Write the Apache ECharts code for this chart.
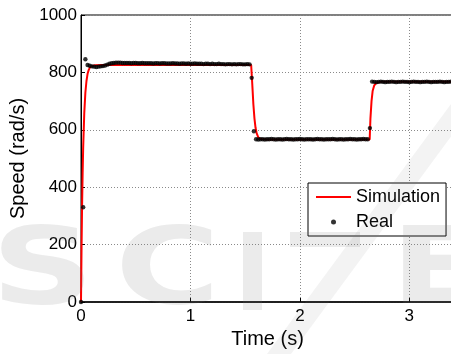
<!DOCTYPE html>
<html>
<head>
<meta charset="utf-8">
<script src="https://cdn.jsdelivr.net/npm/echarts@6/dist/echarts.min.js"></script>
<style>
  html, body { margin: 0; padding: 0; background: #fff; }
  #chart { width: 451px; height: 354px; }
</style>
</head>
<body>
<div id="chart"></div>
<script>
// Motor speed step response: simulated model vs. measured encoder samples.

// Simulated speed (rad/s) at the given times (s)
const simTime = [0, 0.005, 0.01, 0.015, 0.02, 0.03, 0.04, 0.05, 0.06, 0.07, 0.08, 0.10, 0.13, 0.20,
  1.555, 1.565, 1.575, 1.585, 1.595, 1.605, 1.62, 1.64, 1.70,
  2.638, 2.645, 2.655, 2.665, 2.68, 2.70, 2.74, 3.50];
const simSpeed = [0, 190, 340, 450, 540, 660, 730, 770, 795, 808, 816, 822, 825, 826,
  826, 760, 690, 640, 607, 588, 574, 568, 566,
  566, 640, 700, 735, 755, 764, 767, 767];

// Measured speed (rad/s), one sample every SAMPLE_PERIOD seconds starting at t = 0
const SAMPLE_PERIOD = 0.02;
const realSpeed = [
  0, 330, 846,
  826, 823, 821, 820, 819, 820, 821, 822, 824, 827, 830,
  832, 833, 834, 834, 834, 833, 833,
  833, 833, 832, 833, 833, 832, 832, 833, 832, 832,
  832, 832, 831, 832, 832, 831, 832, 832, 831, 831,
  831, 832, 831, 831, 830, 831, 831, 830, 831, 830,
  830, 831, 830, 830, 830, 829, 830, 830, 829, 830,
  829, 829, 830, 829, 829, 828, 829, 829, 828, 829,
  828, 829, 829, 828, 828, 829, 828,
  781, 595,
  567, 566, 567, 567, 566, 567, 567, 568, 567, 566,
  567, 567, 566, 567, 568, 567, 567, 566, 567, 567,
  568, 567, 566, 567, 567, 567, 566, 567, 568, 567,
  567, 566, 567, 567, 567, 568, 567, 566, 567, 567,
  566, 567, 567, 568, 567, 567, 566, 567, 567, 568,
  567, 567,
  606, 768,
  767, 766, 767, 768, 767, 766, 767, 767, 768, 767,
  766, 767, 767, 768, 767, 767, 766, 767, 768, 767,
  767, 766, 767, 767, 768, 767, 766, 767, 767, 767,
  768, 767, 766, 767, 767, 768, 767
];

const xTicks = [0, 1, 2, 3];
const yTicks = [0, 200, 400, 600, 800, 1000];
const seriesNames = ['Simulation', 'Real'];

const simData = simTime.map((t, i) => [t, simSpeed[i]]);
const realData = realSpeed.map((v, i) => [+(i * SAMPLE_PERIOD).toFixed(3), v]);

const FONT = '"Liberation Sans", Arial, Helvetica, sans-serif';
const WM = 'rgba(120,120,120,0.15)';
const WM_LIGHT = 'rgba(120,120,120,0.09)';

const chart = echarts.init(document.getElementById('chart'), null, { renderer: 'canvas' });

chart.setOption({
  animation: false,
  backgroundColor: '#fff',
  grid: {
    left: 81, top: 15, width: 383, height: 287,
    containLabel: false, outerBoundsMode: 'none',
    show: true, borderColor: '#000', borderWidth: 1, backgroundColor: 'transparent'
  },
  xAxis: {
    type: 'value',
    min: xTicks[0], max: 3.5, interval: 1,
    name: 'Time (s)', nameLocation: 'middle', nameGap: 25,
    nameTextStyle: { fontFamily: FONT, fontSize: 20, color: '#000', padding: [0, 10, 0, 0] },
    axisLine: { show: true, onZero: false, lineStyle: { color: '#000', width: 1.6 } },
    axisTick: { show: true, inside: true, length: 4, lineStyle: { color: '#000' } },
    axisLabel: {
      fontFamily: FONT, fontSize: 17, color: '#000', margin: 6,
      showMaxLabel: false, formatter: (v) => String(v)
    },
    splitLine: { show: true, lineStyle: { color: '#8a8a8a', type: [1, 2], width: 1 } }
  },
  yAxis: {
    type: 'value',
    min: yTicks[0], max: yTicks[yTicks.length - 1], interval: 200,
    name: 'Speed (rad/s)', nameLocation: 'middle', nameGap: 52, nameRotate: 90,
    nameTextStyle: { fontFamily: FONT, fontSize: 20, color: '#000' },
    axisLine: { show: true, onZero: false, lineStyle: { color: '#000', width: 1 } },
    axisTick: { show: true, inside: true, length: 4, lineStyle: { color: '#000' } },
    axisLabel: { fontFamily: FONT, fontSize: 17, color: '#000', margin: 4, formatter: (v) => String(v) },
    splitLine: { show: true, lineStyle: { color: '#8a8a8a', type: [1, 2], width: 1 } }
  },
  legend: {
    data: [
      { name: seriesNames[0], icon: 'path://M0,0 L35,0 L35,2 L0,2 Z', itemStyle: { color: '#ff0000' } },
      { name: seriesNames[1], icon: 'circle' }
    ],
    orient: 'vertical',
    left: 308, top: 183,
    padding: [5, 6, 5, 8],
    itemGap: 7,
    itemWidth: 35, itemHeight: 5,
    backgroundColor: '#fff',
    borderColor: '#000', borderWidth: 1,
    textStyle: { fontFamily: FONT, fontSize: 18, color: '#000' }
  },
  graphic: {
    elements: [
      { type: 'text', x: -9, y: 275, scaleX: 1.34, z: 100, silent: true,
        style: { text: 'S', font: 'bold 107px "DejaVu Sans"', fill: WM, verticalAlign: 'middle' } },
      { type: 'text', x: 115, y: 275, scaleX: 1.34, z: 100, silent: true,
        style: { text: 'C', font: 'bold 107px "DejaVu Sans"', fill: WM, verticalAlign: 'middle' } },
      { type: 'rect', z: 100, silent: true, shape: { x: 243, y: 232, width: 19, height: 78 }, style: { fill: WM } },
      { type: 'rect', z: 100, silent: true, shape: { x: 290, y: 232, width: 70, height: 15 }, style: { fill: WM } },
      { type: 'polygon', z: 100, silent: true,
        shape: { points: [[267, 354], [291, 354], [475, 104], [451, 104]] }, style: { fill: WM_LIGHT } },
      { type: 'text', x: 390, y: 275, scaleX: 1.34, z: 100, silent: true,
        style: { text: 'E', font: 'bold 107px "DejaVu Sans"', fill: WM, verticalAlign: 'middle' } }
    ]
  },
  series: [
    {
      name: seriesNames[0],
      type: 'line',
      data: simData,
      showSymbol: false, symbol: 'none',
      lineStyle: { color: '#ff0000', width: 2 },
      itemStyle: { color: '#ff0000' },
      z: 2
    },
    {
      name: seriesNames[1],
      type: 'scatter',
      data: realData,
      symbol: 'circle', symbolSize: 4.4,
      itemStyle: { color: '#000' },
      z: 3
    }
  ]
});
</script>
</body>
</html>
